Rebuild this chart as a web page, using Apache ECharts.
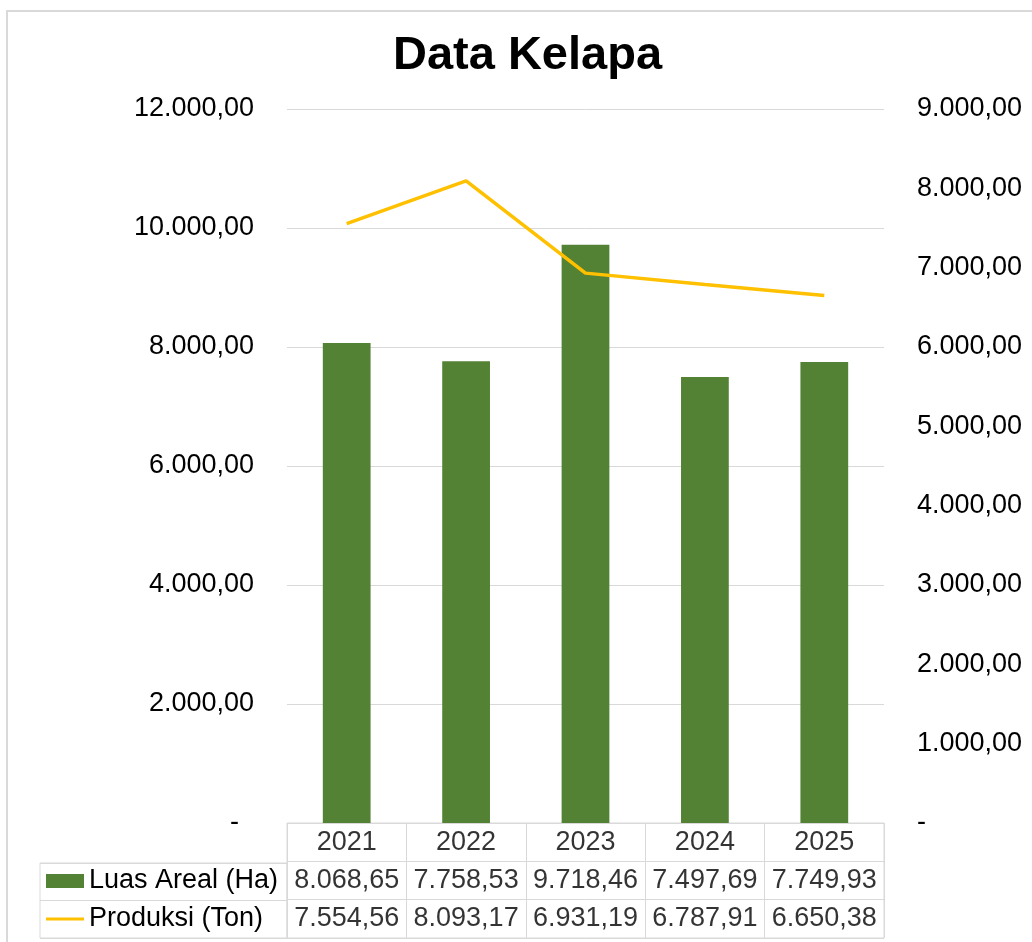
<!DOCTYPE html>
<html>
<head>
<meta charset="utf-8">
<script src="https://cdn.jsdelivr.net/npm/echarts@6/dist/echarts.min.js"></script>
<style>
  html, body { margin: 0; padding: 0; background: #fff; }
  #chart { width: 1032px; height: 942px; }
</style>
</head>
<body>
<div id="chart"></div>
<script>
"use strict";

// Data
const years = ["2021", "2022", "2023", "2024", "2025"];
const luasAreal = [8068.65, 7758.53, 9718.46, 7497.69, 7749.93];
const produksi = [7554.56, 8093.17, 6931.19, 6787.91, 6650.38];
const seriesNames = ["Luas Areal (Ha)", "Produksi (Ton)"];
const tableRows = ["tahun", "luas", "produksi"];

const FONT = "'Liberation Sans', Arial, sans-serif";
const GREEN = "#548235";
const GOLD = "#FFC000";
const GRID_GRAY = "#d9d9d9";
const FS = 27;

// Indonesian number style: 8.068,65
function fmtId(v) {
  const parts = v.toFixed(2).split(".");
  return parts[0].replace(/\B(?=(\d{3})+(?!\d))/g, ".") + "," + parts[1];
}

// Cells of the data table below the plot
const tableCells = [];
years.forEach((y, i) => {
  tableCells.push([y, "tahun", y]);
  tableCells.push([y, "luas", fmtId(luasAreal[i])]);
  tableCells.push([y, "produksi", fmtId(produksi[i])]);
});

const chart = echarts.init(document.getElementById("chart"), null, { renderer: "canvas" });

const option = {
  backgroundColor: "#fff",
  textStyle: { fontFamily: FONT },
  animation: false,
  title: {
    text: "Data Kelapa",
    left: 388,
    top: 28,
    textStyle: { fontFamily: FONT, fontSize: 47, fontWeight: "bold", color: "#000" },
  },
  legend: {
    orient: "vertical",
    left: 46,
    top: 866,
    padding: 0,
    itemWidth: 38,
    itemHeight: 14,
    itemGap: 8,
    textStyle: { fontFamily: FONT, fontSize: FS, color: "#000", lineHeight: 30 },
    data: [
      { name: seriesNames[0], icon: "rect" },
      { name: seriesNames[1], icon: "path://M0,0 H40 V3.2 H0 Z" },
    ],
  },
  grid: [
    // plot area
    { left: 287, right: 148, top: 109, bottom: 119 },
    // data table cells
    { left: 287, right: 148, top: 823, bottom: 4, show: true, borderColor: GRID_GRAY, borderWidth: 1 },
    // row label cells
    { left: 40, width: 247, top: 863, bottom: 4, show: true, borderColor: GRID_GRAY, borderWidth: 1 },
  ],
  xAxis: [
    {
      type: "category", gridIndex: 0, data: years,
      axisLine: { show: false }, axisTick: { show: false }, axisLabel: { show: false },
    },
    {
      type: "category", gridIndex: 1, data: years,
      axisLine: { show: false }, axisTick: { show: false }, axisLabel: { show: false },
      splitLine: { show: true, lineStyle: { color: GRID_GRAY, width: 1 } },
    },
    {
      type: "value", gridIndex: 2, show: false,
    },
  ],
  yAxis: [
    {
      type: "value", gridIndex: 0, min: 0, max: 12000, interval: 2000,
      axisLine: { show: false }, axisTick: { show: false },
      axisLabel: {
        margin: 33, fontSize: FS, color: "#000", fontFamily: FONT,
        formatter: (v) => (v === 0 ? "-  " : fmtId(v)),
      },
      splitLine: { show: true, lineStyle: { color: GRID_GRAY, width: 1 } },
    },
    {
      type: "value", gridIndex: 0, position: "right", min: 0, max: 9000, interval: 1000,
      axisLine: { show: false }, axisTick: { show: false },
      axisLabel: {
        margin: 33, fontSize: FS, color: "#000", fontFamily: FONT,
        formatter: (v) => (v === 0 ? "-" : fmtId(v)),
      },
      splitLine: { show: false },
    },
    {
      type: "category", gridIndex: 1, data: tableRows, inverse: true,
      axisLine: { show: false }, axisTick: { show: false }, axisLabel: { show: false },
      splitLine: { show: true, lineStyle: { color: GRID_GRAY, width: 1 } },
    },
    {
      type: "category", gridIndex: 2, data: ["luas", "produksi"], inverse: true,
      axisLine: { show: false }, axisTick: { show: false }, axisLabel: { show: false },
      splitLine: { show: true, lineStyle: { color: GRID_GRAY, width: 1 } },
    },
  ],
  series: [
    {
      name: seriesNames[0],
      type: "bar",
      xAxisIndex: 0, yAxisIndex: 0,
      data: luasAreal,
      barWidth: "40%",
      itemStyle: { color: GREEN },
    },
    {
      name: seriesNames[1],
      type: "line",
      xAxisIndex: 0, yAxisIndex: 1,
      data: produksi,
      symbol: "none",
      lineStyle: { color: GOLD, width: 3.5 },
      itemStyle: { color: GOLD },
    },
    {
      name: "tabel",
      type: "scatter",
      xAxisIndex: 1, yAxisIndex: 2,
      data: tableCells,
      symbolSize: 1,
      itemStyle: { color: "rgba(0,0,0,0)" },
      label: {
        show: true, position: "inside", fontFamily: FONT, fontSize: FS, color: "#000",
        formatter: (p) => p.data[2],
      },
      silent: true,
    },
  ],
  graphic: [
    {
      type: "rect",
      shape: { x: 7, y: 11, width: 1100, height: 1000 },
      style: { fill: "none", stroke: GRID_GRAY, lineWidth: 2 },
      silent: true,
      z: 100,
    },
  ],
};

chart.setOption(option);
</script>
</body>
</html>
